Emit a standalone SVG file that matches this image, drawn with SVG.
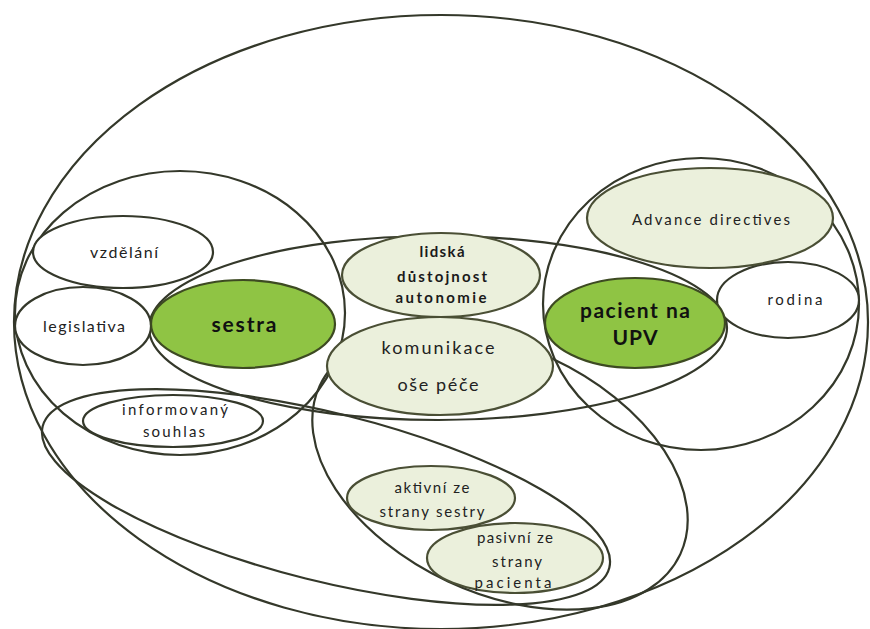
<svg xmlns="http://www.w3.org/2000/svg" width="870" height="629" viewBox="0 0 870 629">
  <style>
    .ring { fill: none; stroke: #34382a; stroke-width: 2.2; }
    .plain { fill: #ffffff; stroke: #34382a; stroke-width: 2.2; }
    .pale { fill: #ebf0dc; stroke: #4a4f35; stroke-width: 2.2; }
    .key { fill: #8fc444; stroke: #3d4a22; stroke-width: 2.2; }
    text { font-family: Lato, "Open Sans", "Liberation Sans", sans-serif; fill: #222222; text-anchor: middle; }
    .s15 { font-size: 15px; }
    .s16 { font-size: 16px; }
    .s18 { font-size: 18px; }
    .b15 { font-size: 15px; font-weight: bold; fill: #1a1a1a; }
    .b21 { font-size: 21px; font-weight: bold; fill: #111111; }
  </style>
  <rect width="870" height="629" fill="#ffffff"/>

  <!-- grouping outlines (no fill) -->
  <g id="groupings">
    <ellipse id="whole" class="ring" cx="441" cy="322" rx="427" ry="307"/>
    <ellipse id="nurse-side" class="ring" cx="180" cy="313" rx="165" ry="142"/>
    <ellipse id="patient-side" class="ring" cx="701" cy="304" rx="158" ry="146"/>
    <ellipse id="shared-core" class="ring" cx="438" cy="328" rx="289" ry="92"/>
    <ellipse id="consent-band" class="ring" cx="326" cy="497" rx="292" ry="84" transform="rotate(14 326 497)"/>
    <ellipse id="communication-band" class="ring" cx="500" cy="470" rx="199" ry="123" transform="rotate(25 500 470)"/>
  </g>

  <g id="n-vzdelani">
    <ellipse class="plain" cx="123" cy="252" rx="90" ry="36"/>
    <text class="s16" x="124" y="258" textLength="68" lengthAdjust="spacing">vzdělání</text>
  </g>
  <g id="n-legislativa">
    <ellipse class="plain" cx="83" cy="326" rx="68" ry="39"/>
    <text class="s16" x="84" y="332" textLength="82" lengthAdjust="spacing">legislativa</text>
  </g>
  <g id="n-informovany">
    <ellipse class="plain" cx="173" cy="421" rx="90" ry="26"/>
    <text class="s15" x="175" y="415" textLength="106" lengthAdjust="spacing">informovaný</text>
    <text class="s15" x="174" y="437" textLength="62" lengthAdjust="spacing">souhlas</text>
  </g>
  <g id="n-rodina">
    <ellipse class="plain" cx="788" cy="300" rx="71" ry="38"/>
    <text class="s15" x="795" y="305" textLength="55" lengthAdjust="spacing">rodina</text>
  </g>

  <g id="n-advance">
    <ellipse class="pale" cx="710" cy="218" rx="123" ry="50"/>
    <text class="s15" x="711" y="225" textLength="158" lengthAdjust="spacing">Advance directives</text>
  </g>
  <g id="n-dustojnost">
    <ellipse class="pale" cx="441" cy="275" rx="99" ry="42"/>
    <text class="b15" x="442" y="257" textLength="45" lengthAdjust="spacing">lidská</text>
    <text class="b15" x="442" y="282" textLength="90" lengthAdjust="spacing">důstojnost</text>
    <text class="b15" x="441" y="303" textLength="91" lengthAdjust="spacing">autonomie</text>
  </g>
  <g id="n-komunikace">
    <ellipse class="pale" cx="440" cy="366" rx="113" ry="49"/>
    <text class="s18" x="438" y="354" textLength="113" lengthAdjust="spacing">komunikace</text>
    <text class="s18" x="438" y="391" textLength="81" lengthAdjust="spacing">oše péče</text>
  </g>
  <g id="n-aktivni">
    <ellipse class="pale" cx="431" cy="498" rx="84" ry="32"/>
    <text class="s15" x="432" y="493" textLength="75" lengthAdjust="spacing">aktivní ze</text>
    <text class="s15" x="432" y="517" textLength="105" lengthAdjust="spacing">strany sestry</text>
  </g>
  <g id="n-pasivni">
    <ellipse class="pale" cx="515" cy="558" rx="88" ry="35"/>
    <text class="s15" x="515" y="543" textLength="76" lengthAdjust="spacing">pasivní ze</text>
    <text class="s15" x="517" y="567" textLength="50" lengthAdjust="spacing">strany</text>
    <text class="s15" x="513" y="588" textLength="77" lengthAdjust="spacing">pacienta</text>
  </g>

  <g id="n-sestra">
    <ellipse class="key" cx="243" cy="324" rx="92" ry="44"/>
    <text class="b21" x="244" y="332" textLength="65" lengthAdjust="spacing">sestra</text>
  </g>
  <g id="n-pacient">
    <ellipse class="key" cx="635" cy="323" rx="90" ry="45"/>
    <text class="b21" x="635" y="318" textLength="110" lengthAdjust="spacing">pacient na</text>
    <text class="b21" x="635" y="345" textLength="45" lengthAdjust="spacing">UPV</text>
  </g>
</svg>
